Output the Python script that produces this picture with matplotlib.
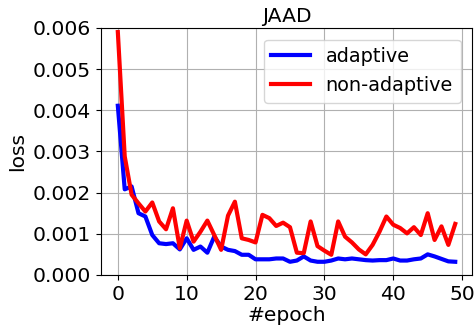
import matplotlib
matplotlib.use("Agg")
import matplotlib.pyplot as plt

epochs = list(range(50))
adaptive = [0.00411, 0.00208, 0.00215, 0.00150, 0.00142, 0.00097, 0.00077, 0.00075, 0.00077, 0.00062,
            0.00089, 0.00061, 0.00069, 0.00054, 0.00093, 0.00069, 0.00061, 0.00058, 0.00049, 0.00049,
            0.00038, 0.00038, 0.00038, 0.00040, 0.00040, 0.00032, 0.00035, 0.00045, 0.00035, 0.00032,
            0.00032, 0.00035, 0.00040, 0.00038, 0.00040, 0.00038, 0.00036, 0.00035, 0.00036, 0.00036,
            0.00040, 0.00035, 0.00035, 0.00038, 0.00040, 0.00050, 0.00045, 0.00039, 0.00033, 0.00032]
non_adaptive = [0.00590, 0.00288, 0.00195, 0.00174, 0.00154, 0.00176, 0.00130, 0.00111, 0.00162, 0.00065,
                0.00132, 0.00081, 0.00105, 0.00132, 0.00097, 0.00061, 0.00144, 0.00178, 0.00089, 0.00085,
                0.00079, 0.00146, 0.00138, 0.00119, 0.00127, 0.00116, 0.00054, 0.00053, 0.00130, 0.00070,
                0.00059, 0.00049, 0.00130, 0.00093, 0.00079, 0.00062, 0.00050, 0.00073, 0.00105, 0.00142,
                0.00122, 0.00114, 0.00101, 0.00116, 0.00097, 0.00150, 0.00085, 0.00118, 0.00073, 0.00124]
yticks = [0.000, 0.001, 0.002, 0.003, 0.004, 0.005, 0.006]
xticks = [0, 10, 20, 30, 40, 50]

fs = 14.6
fig = plt.figure(figsize=(4.74, 3.25), dpi=100)
ax = fig.add_axes([0.213, 0.154, 0.783, 0.760])
ax.plot(epochs, adaptive, color="blue", lw=3, label="adaptive")
ax.plot(epochs, non_adaptive, color="red", lw=3, label="non-adaptive")
ax.set_ylim(0, 0.006)
ax.set_yticks(yticks)
ax.set_yticklabels([f"{v:.3f}" for v in yticks])
ax.set_xticks(xticks)
ax.tick_params(labelsize=fs)
ax.grid(True)
ax.set_xlabel("#epoch", fontsize=fs, labelpad=2)
ax.set_ylabel("loss", fontsize=fs)
ax.set_title("JAAD", fontsize=fs, pad=4)
ax.legend(loc="upper right", fontsize=13.9, borderaxespad=0.6)
fig.savefig("out.png", dpi=100)
